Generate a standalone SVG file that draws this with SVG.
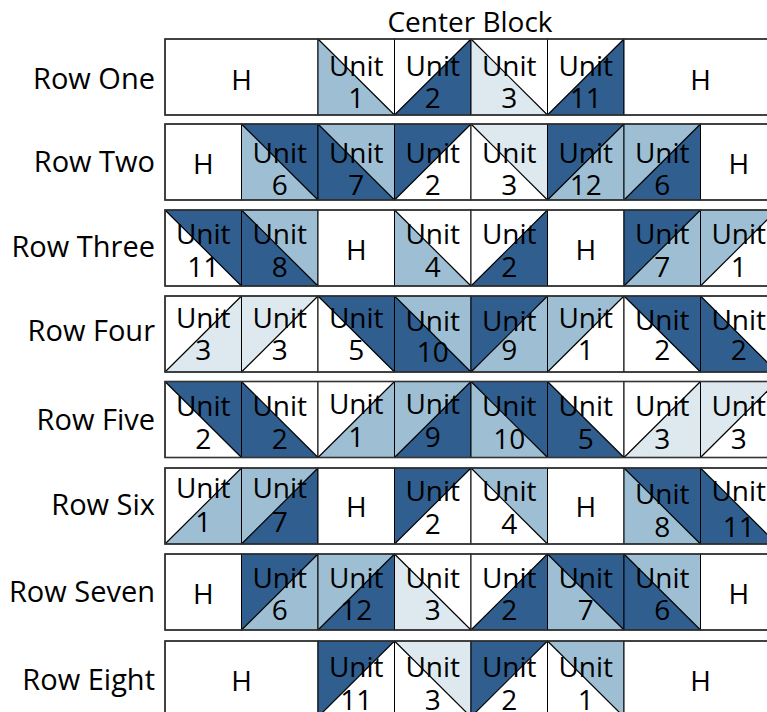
<svg xmlns="http://www.w3.org/2000/svg" xmlns:xlink="http://www.w3.org/1999/xlink" width="767" height="712" viewBox="0 0 767 712">
<style>
.d{fill:#2f5e8f}.m{fill:#9ebfd3}.l{fill:#dde9ef}.w{fill:#ffffff}
.ln{stroke:#000;stroke-width:1.2;fill:none}
.bx{fill:none;stroke:#000;stroke-width:1}
.fr{fill:none;stroke:#333;stroke-width:1.6}
text{font-family:"Open Sans","Noto Sans",sans-serif;font-size:28px;fill:#000;text-anchor:middle}
.lab{text-anchor:end;font-size:29px}
</style>
<defs>
<path id="LL" d="M0,0L0,76L76.5,76Z"/>
<path id="UR" d="M0,0L76.5,0L76.5,76Z"/>
<path id="UL" d="M0,0L76.5,0L0,76Z"/>
<path id="LR" d="M76.5,0L76.5,76L0,76Z"/>
<path id="bs" d="M0,0L76.5,76"/>
<path id="fs" d="M0,76L76.5,0"/>
<rect id="box" x="0" y="0" width="76.5" height="76"/>
<rect id="box2" x="0" y="0" width="153" height="76"/>
</defs>
<rect width="767" height="712" fill="#fff"/>
<text id="title" x="470" y="32">Center Block</text>
<g id="labels">
<text class="lab" x="155" y="89">Row One</text>
<text class="lab" x="155" y="172">Row Two</text>
<text class="lab" x="155" y="257">Row Three</text>
<text class="lab" x="155" y="341">Row Four</text>
<text class="lab" x="155" y="430">Row Five</text>
<text class="lab" x="155" y="515">Row Six</text>
<text class="lab" x="155" y="602">Row Seven</text>
<text class="lab" x="155" y="690">Row Eight</text>
</g>
<g id="connectors"></g>

<!-- Row 1 -->
<g id="row1">
<g id="r1h1" transform="translate(165,39)"><use href="#box2" class="w"/><use href="#box2" class="bx"/><text x="76.5" y="51">H</text></g>
<g id="r1c2" transform="translate(318,39)"><use href="#LL" class="m"/><use href="#UR" class="w"/><use href="#bs" class="ln"/><use href="#box" class="bx"/><text x="38.25" y="37">Unit</text><text x="38.25" y="69">1</text></g>
<g id="r1c3" transform="translate(394.5,39)"><use href="#UL" class="w"/><use href="#LR" class="d"/><use href="#fs" class="ln"/><use href="#box" class="bx"/><text x="38.25" y="37">Unit</text><text x="38.25" y="69">2</text></g>
<g id="r1c4" transform="translate(471,39)"><use href="#LL" class="l"/><use href="#UR" class="w"/><use href="#bs" class="ln"/><use href="#box" class="bx"/><text x="38.25" y="37">Unit</text><text x="38.25" y="69">3</text></g>
<g id="r1c5" transform="translate(547.5,39)"><use href="#UL" class="w"/><use href="#LR" class="d"/><use href="#fs" class="ln"/><use href="#box" class="bx"/><text x="38.25" y="37">Unit</text><text x="38.25" y="69">11</text></g>
<g id="r1h2" transform="translate(624,39)"><use href="#box2" class="w"/><use href="#box2" class="bx"/><text x="76.5" y="51">H</text></g>
<rect class="fr" x="165" y="39" width="620" height="76"/>
</g>

<!-- Row 2 -->
<g id="row2">
<g id="r2c0" transform="translate(165,124)"><use href="#box" class="w"/><use href="#box" class="bx"/><text x="38.25" y="50">H</text></g>
<g id="r2c1" transform="translate(241.5,124)"><use href="#LL" class="m"/><use href="#UR" class="d"/><use href="#bs" class="ln"/><use href="#box" class="bx"/><text x="38.25" y="39">Unit</text><text x="38.25" y="71">6</text></g>
<g id="r2c2" transform="translate(318,124)"><use href="#LL" class="d"/><use href="#UR" class="m"/><use href="#bs" class="ln"/><use href="#box" class="bx"/><text x="38.25" y="39">Unit</text><text x="38.25" y="71">7</text></g>
<g id="r2c3" transform="translate(394.5,124)"><use href="#UL" class="d"/><use href="#LR" class="w"/><use href="#fs" class="ln"/><use href="#box" class="bx"/><text x="38.25" y="39">Unit</text><text x="38.25" y="71">2</text></g>
<g id="r2c4" transform="translate(471,124)"><use href="#LL" class="w"/><use href="#UR" class="l"/><use href="#bs" class="ln"/><use href="#box" class="bx"/><text x="38.25" y="39">Unit</text><text x="38.25" y="71">3</text></g>
<g id="r2c5" transform="translate(547.5,124)"><use href="#UL" class="d"/><use href="#LR" class="m"/><use href="#fs" class="ln"/><use href="#box" class="bx"/><text x="38.25" y="39">Unit</text><text x="38.25" y="71">12</text></g>
<g id="r2c6" transform="translate(624,124)"><use href="#UL" class="m"/><use href="#LR" class="d"/><use href="#fs" class="ln"/><use href="#box" class="bx"/><text x="38.25" y="39">Unit</text><text x="38.25" y="71">6</text></g>
<g id="r2c7" transform="translate(700.5,124)"><use href="#box" class="w"/><use href="#box" class="bx"/><text x="38.25" y="50">H</text></g>
<rect class="fr" x="165" y="124" width="620" height="76"/>
</g>

<!-- Row 3 -->
<g id="row3">
<g id="r3c0" transform="translate(165,210)"><use href="#LL" class="w"/><use href="#UR" class="d"/><use href="#bs" class="ln"/><use href="#box" class="bx"/><text x="38.25" y="34">Unit</text><text x="38.25" y="67">11</text></g>
<g id="r3c1" transform="translate(241.5,210)"><use href="#LL" class="d"/><use href="#UR" class="m"/><use href="#bs" class="ln"/><use href="#box" class="bx"/><text x="38.25" y="34">Unit</text><text x="38.25" y="67">8</text></g>
<g id="r3c2" transform="translate(318,210)"><use href="#box" class="w"/><use href="#box" class="bx"/><text x="38.25" y="50">H</text></g>
<g id="r3c3" transform="translate(394.5,210)"><use href="#LL" class="m"/><use href="#UR" class="w"/><use href="#bs" class="ln"/><use href="#box" class="bx"/><text x="38.25" y="34">Unit</text><text x="38.25" y="67">4</text></g>
<g id="r3c4" transform="translate(471,210)"><use href="#UL" class="w"/><use href="#LR" class="d"/><use href="#fs" class="ln"/><use href="#box" class="bx"/><text x="38.25" y="34">Unit</text><text x="38.25" y="67">2</text></g>
<g id="r3c5" transform="translate(547.5,210)"><use href="#box" class="w"/><use href="#box" class="bx"/><text x="38.25" y="50">H</text></g>
<g id="r3c6" transform="translate(624,210)"><use href="#UL" class="d"/><use href="#LR" class="m"/><use href="#fs" class="ln"/><use href="#box" class="bx"/><text x="38.25" y="34">Unit</text><text x="38.25" y="67">7</text></g>
<g id="r3c7" transform="translate(700.5,210)"><use href="#UL" class="m"/><use href="#LR" class="w"/><use href="#fs" class="ln"/><use href="#box" class="bx"/><text x="38.25" y="34">Unit</text><text x="38.25" y="67">1</text></g>
<rect class="fr" x="165" y="210" width="620" height="76"/>
</g>

<!-- Row 4 -->
<g id="row4">
<g id="r4c0" transform="translate(165,296)"><use href="#UL" class="w"/><use href="#LR" class="l"/><use href="#fs" class="ln"/><use href="#box" class="bx"/><text x="38.25" y="32">Unit</text><text x="38.25" y="64">3</text></g>
<g id="r4c1" transform="translate(241.5,296)"><use href="#UL" class="l"/><use href="#LR" class="w"/><use href="#fs" class="ln"/><use href="#box" class="bx"/><text x="38.25" y="32">Unit</text><text x="38.25" y="64">3</text></g>
<g id="r4c2" transform="translate(318,296)"><use href="#LL" class="w"/><use href="#UR" class="d"/><use href="#bs" class="ln"/><use href="#box" class="bx"/><text x="38.25" y="32">Unit</text><text x="38.25" y="64">5</text></g>
<g id="r4c3" transform="translate(394.5,296)"><use href="#LL" class="d"/><use href="#UR" class="m"/><use href="#bs" class="ln"/><use href="#box" class="bx"/><text x="38.25" y="35">Unit</text><text x="38.25" y="66">10</text></g>
<g id="r4c4" transform="translate(471,296)"><use href="#UL" class="d"/><use href="#LR" class="m"/><use href="#fs" class="ln"/><use href="#box" class="bx"/><text x="38.25" y="35">Unit</text><text x="38.25" y="64">9</text></g>
<g id="r4c5" transform="translate(547.5,296)"><use href="#UL" class="m"/><use href="#LR" class="w"/><use href="#fs" class="ln"/><use href="#box" class="bx"/><text x="38.25" y="32">Unit</text><text x="38.25" y="64">1</text></g>
<g id="r4c6" transform="translate(624,296)"><use href="#LL" class="w"/><use href="#UR" class="d"/><use href="#bs" class="ln"/><use href="#box" class="bx"/><text x="38.25" y="34">Unit</text><text x="38.25" y="64">2</text></g>
<g id="r4c7" transform="translate(700.5,296)"><use href="#LL" class="d"/><use href="#UR" class="w"/><use href="#bs" class="ln"/><use href="#box" class="bx"/><text x="38.25" y="34">Unit</text><text x="38.25" y="64">2</text></g>
<rect class="fr" x="165" y="296" width="620" height="76"/>
</g>

<!-- Row 5 -->
<g id="row5">
<g id="r5c0" transform="translate(165,381.5)"><use href="#LL" class="w"/><use href="#UR" class="d"/><use href="#bs" class="ln"/><use href="#box" class="bx"/><text x="38.25" y="34">Unit</text><text x="38.25" y="67">2</text></g>
<g id="r5c1" transform="translate(241.5,381.5)"><use href="#LL" class="d"/><use href="#UR" class="w"/><use href="#bs" class="ln"/><use href="#box" class="bx"/><text x="38.25" y="34">Unit</text><text x="38.25" y="67">2</text></g>
<g id="r5c2" transform="translate(318,381.5)"><use href="#UL" class="w"/><use href="#LR" class="m"/><use href="#fs" class="ln"/><use href="#box" class="bx"/><text x="38.25" y="32">Unit</text><text x="38.25" y="65">1</text></g>
<g id="r5c3" transform="translate(394.5,381.5)"><use href="#UL" class="m"/><use href="#LR" class="d"/><use href="#fs" class="ln"/><use href="#box" class="bx"/><text x="38.25" y="32">Unit</text><text x="38.25" y="65">9</text></g>
<g id="r5c4" transform="translate(471,381.5)"><use href="#LL" class="m"/><use href="#UR" class="d"/><use href="#bs" class="ln"/><use href="#box" class="bx"/><text x="38.25" y="34">Unit</text><text x="38.25" y="67">10</text></g>
<g id="r5c5" transform="translate(547.5,381.5)"><use href="#LL" class="d"/><use href="#UR" class="w"/><use href="#bs" class="ln"/><use href="#box" class="bx"/><text x="38.25" y="34">Unit</text><text x="38.25" y="67">5</text></g>
<g id="r5c6" transform="translate(624,381.5)"><use href="#UL" class="w"/><use href="#LR" class="l"/><use href="#fs" class="ln"/><use href="#box" class="bx"/><text x="38.25" y="34">Unit</text><text x="38.25" y="67">3</text></g>
<g id="r5c7" transform="translate(700.5,381.5)"><use href="#UL" class="l"/><use href="#LR" class="w"/><use href="#fs" class="ln"/><use href="#box" class="bx"/><text x="38.25" y="34">Unit</text><text x="38.25" y="67">3</text></g>
<rect class="fr" x="165" y="381.5" width="620" height="76"/>
</g>

<!-- Row 6 -->
<g id="row6">
<g id="r6c0" transform="translate(165,468)"><use href="#UL" class="w"/><use href="#LR" class="m"/><use href="#fs" class="ln"/><use href="#box" class="bx"/><text x="38.25" y="30">Unit</text><text x="38.25" y="64">1</text></g>
<g id="r6c1" transform="translate(241.5,468)"><use href="#UL" class="m"/><use href="#LR" class="d"/><use href="#fs" class="ln"/><use href="#box" class="bx"/><text x="38.25" y="30">Unit</text><text x="38.25" y="64">7</text></g>
<g id="r6c2" transform="translate(318,468)"><use href="#box" class="w"/><use href="#box" class="bx"/><text x="38.25" y="49">H</text></g>
<g id="r6c3" transform="translate(394.5,468)"><use href="#UL" class="d"/><use href="#LR" class="w"/><use href="#fs" class="ln"/><use href="#box" class="bx"/><text x="38.25" y="33">Unit</text><text x="38.25" y="66">2</text></g>
<g id="r6c4" transform="translate(471,468)"><use href="#LL" class="w"/><use href="#UR" class="m"/><use href="#bs" class="ln"/><use href="#box" class="bx"/><text x="38.25" y="33">Unit</text><text x="38.25" y="66">4</text></g>
<g id="r6c5" transform="translate(547.5,468)"><use href="#box" class="w"/><use href="#box" class="bx"/><text x="38.25" y="49">H</text></g>
<g id="r6c6" transform="translate(624,468)"><use href="#LL" class="m"/><use href="#UR" class="d"/><use href="#bs" class="ln"/><use href="#box" class="bx"/><text x="38.25" y="36">Unit</text><text x="38.25" y="69">8</text></g>
<g id="r6c7" transform="translate(700.5,468)"><use href="#LL" class="d"/><use href="#UR" class="w"/><use href="#bs" class="ln"/><use href="#box" class="bx"/><text x="38.25" y="33">Unit</text><text x="38.25" y="69">11</text></g>
<rect class="fr" x="165" y="468" width="620" height="76"/>
</g>

<!-- Row 7 -->
<g id="row7">
<g id="r7c0" transform="translate(165,554)"><use href="#box" class="w"/><use href="#box" class="bx"/><text x="38.25" y="50">H</text></g>
<g id="r7c1" transform="translate(241.5,554)"><use href="#UL" class="d"/><use href="#LR" class="m"/><use href="#fs" class="ln"/><use href="#box" class="bx"/><text x="38.25" y="34">Unit</text><text x="38.25" y="66">6</text></g>
<g id="r7c2" transform="translate(318,554)"><use href="#UL" class="m"/><use href="#LR" class="d"/><use href="#fs" class="ln"/><use href="#box" class="bx"/><text x="38.25" y="34">Unit</text><text x="38.25" y="66">12</text></g>
<g id="r7c3" transform="translate(394.5,554)"><use href="#LL" class="l"/><use href="#UR" class="w"/><use href="#bs" class="ln"/><use href="#box" class="bx"/><text x="38.25" y="34">Unit</text><text x="38.25" y="66">3</text></g>
<g id="r7c4" transform="translate(471,554)"><use href="#UL" class="w"/><use href="#LR" class="d"/><use href="#fs" class="ln"/><use href="#box" class="bx"/><text x="38.25" y="34">Unit</text><text x="38.25" y="66">2</text></g>
<g id="r7c5" transform="translate(547.5,554)"><use href="#LL" class="m"/><use href="#UR" class="d"/><use href="#bs" class="ln"/><use href="#box" class="bx"/><text x="38.25" y="34">Unit</text><text x="38.25" y="66">7</text></g>
<g id="r7c6" transform="translate(624,554)"><use href="#LL" class="d"/><use href="#UR" class="m"/><use href="#bs" class="ln"/><use href="#box" class="bx"/><text x="38.25" y="34">Unit</text><text x="38.25" y="66">6</text></g>
<g id="r7c7" transform="translate(700.5,554)"><use href="#box" class="w"/><use href="#box" class="bx"/><text x="38.25" y="50">H</text></g>
<rect class="fr" x="165" y="554" width="620" height="76"/>
</g>

<!-- Row 8 -->
<g id="row8">
<g id="r8h1" transform="translate(165,641)"><use href="#box2" class="w"/><use href="#box2" class="bx"/><text x="76.5" y="50">H</text></g>
<g id="r8c2" transform="translate(318,641)"><use href="#UL" class="d"/><use href="#LR" class="w"/><use href="#fs" class="ln"/><use href="#box" class="bx"/><text x="38.25" y="36">Unit</text><text x="38.25" y="69">11</text></g>
<g id="r8c3" transform="translate(394.5,641)"><use href="#LL" class="w"/><use href="#UR" class="l"/><use href="#bs" class="ln"/><use href="#box" class="bx"/><text x="38.25" y="36">Unit</text><text x="38.25" y="69">3</text></g>
<g id="r8c4" transform="translate(471,641)"><use href="#UL" class="d"/><use href="#LR" class="w"/><use href="#fs" class="ln"/><use href="#box" class="bx"/><text x="38.25" y="36">Unit</text><text x="38.25" y="69">2</text></g>
<g id="r8c5" transform="translate(547.5,641)"><use href="#LL" class="w"/><use href="#UR" class="m"/><use href="#bs" class="ln"/><use href="#box" class="bx"/><text x="38.25" y="36">Unit</text><text x="38.25" y="69">1</text></g>
<g id="r8h2" transform="translate(624,641)"><use href="#box2" class="w"/><use href="#box2" class="bx"/><text x="76.5" y="50">H</text></g>
<rect class="fr" x="165" y="641" width="620" height="76"/>
</g>
</svg>
